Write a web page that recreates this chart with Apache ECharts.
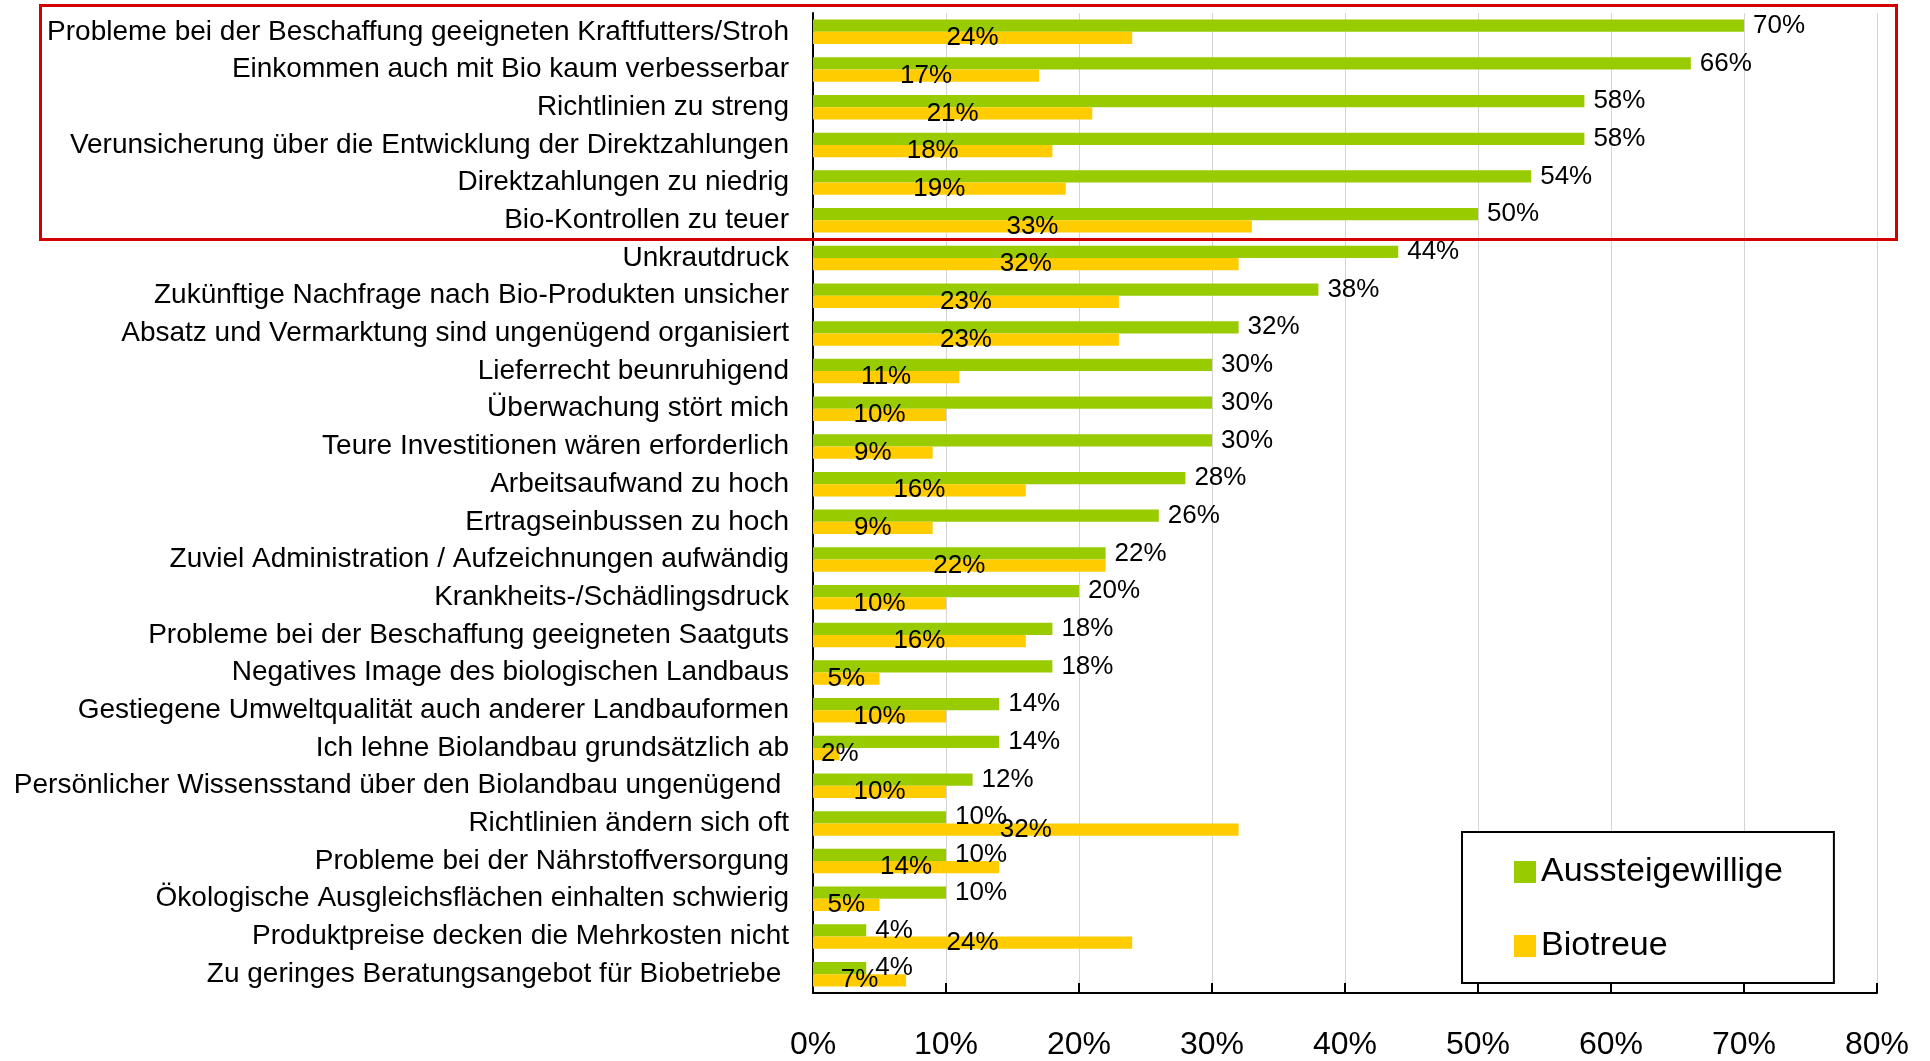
<!DOCTYPE html>
<html>
<head>
<meta charset="utf-8">
<script src="https://cdn.jsdelivr.net/npm/echarts@6/dist/echarts.min.js"></script>
<style>
    html, body {margin: 0; padding: 0; background: #fff;}
    #main {width: 1930px; height: 1061px;}
</style>
</head>
<body>
<div id="main"></div>
<script>
// Kategorien von oben nach unten
var categories = [
    "Probleme bei der Beschaffung geeigneten Kraftfutters/Stroh",
    "Einkommen auch mit Bio kaum verbesserbar",
    "Richtlinien zu streng",
    "Verunsicherung über die Entwicklung der Direktzahlungen",
    "Direktzahlungen zu niedrig",
    "Bio-Kontrollen zu teuer",
    "Unkrautdruck",
    "Zukünftige Nachfrage nach Bio-Produkten unsicher",
    "Absatz und Vermarktung sind ungenügend organisiert",
    "Lieferrecht beunruhigend",
    "Überwachung stört mich",
    "Teure Investitionen wären erforderlich",
    "Arbeitsaufwand zu hoch",
    "Ertragseinbussen zu hoch",
    "Zuviel Administration / Aufzeichnungen aufwändig",
    "Krankheits-/Schädlingsdruck",
    "Probleme bei der Beschaffung geeigneten Saatguts",
    "Negatives Image des biologischen Landbaus",
    "Gestiegene Umweltqualität auch anderer Landbauformen",
    "Ich lehne Biolandbau grundsätzlich ab",
    "Persönlicher Wissensstand über den Biolandbau ungenügend ",
    "Richtlinien ändern sich oft",
    "Probleme bei der Nährstoffversorgung",
    "Ökologische Ausgleichsflächen einhalten schwierig",
    "Produktpreise decken die Mehrkosten nicht",
    "Zu geringes Beratungsangebot für Biobetriebe "
];

var aussteigewillige = [70, 66, 58, 58, 54, 50, 44, 38, 32, 30, 30, 30, 28, 26, 22, 20, 18, 18, 14, 14, 12, 10, 10, 10, 4, 4];
var biotreue = [24, 17, 21, 18, 19, 33, 32, 23, 23, 11, 10, 9, 16, 9, 22, 10, 16, 5, 10, 2, 10, 32, 14, 5, 24, 7];

var tickValues = [0, 10, 20, 30, 40, 50, 60, 70, 80];
var tickLabels = ["0%", "10%", "20%", "30%", "40%", "50%", "60%", "70%", "80%"];

var font = "Liberation Sans";

var myChart = echarts.init(document.getElementById("main"));

// sehr kurze Balken: Beschriftung links im Balken statt mittig
var biotreueData = biotreue.map(function (v) {
    if (v < 4) {
        return {value: v, label: {position: "insideLeft", distance: 8}};
    }
    return v;
});

var option = {
    animation: false,
    backgroundColor: "#fff",
    grid: {left: 813, right: 53, top: 13, bottom: 64, containLabel: false},
    legend: {
        orient: "vertical",
        left: 1462,
        top: 832,
        padding: [23, 51, 20, 52],
        itemGap: 40,
        itemWidth: 22,
        itemHeight: 22,
        icon: "rect",
        backgroundColor: "#fff",
        borderColor: "#000",
        borderWidth: 2,
        borderRadius: 0,
        textStyle: {fontFamily: font, fontSize: 34, lineHeight: 34, color: "#000", padding: [0, 0, 0, 0]},
        data: ["Aussteigewillige", "Biotreue"]
    },
    xAxis: {
        type: "value",
        min: 0,
        max: 80,
        interval: 10,
        axisLine: {show: true, lineStyle: {color: "#000", width: 2}},
        axisTick: {show: true, inside: true, length: 10, lineStyle: {color: "#000", width: 2}},
        splitLine: {show: true, lineStyle: {color: "#d4d4d4", width: 1}},
        axisLabel: {
            margin: 36,
            fontFamily: font,
            fontSize: 32,
            color: "#000",
            formatter: function (val) {
                var i = tickValues.indexOf(val);
                return i >= 0 ? tickLabels[i] : "";
            }
        }
    },
    yAxis: {
        type: "category",
        inverse: true,
        data: categories,
        axisLine: {show: true, lineStyle: {color: "#000", width: 2}},
        axisTick: {show: false},
        axisLabel: {margin: 24, fontFamily: font, fontSize: 28, color: "#000"}
    },
    series: [
        {
            name: "Aussteigewillige",
            type: "bar",
            data: aussteigewillige,
            barGap: "0%",
            barCategoryGap: "35%",
            itemStyle: {color: "#99cc00"},
            label: {
                show: true,
                position: "right",
                distance: 9,
                formatter: "{c}%",
                fontFamily: font,
                fontSize: 26,
                color: "#000"
            }
        },
        {
            name: "Biotreue",
            type: "bar",
            data: biotreueData,
            barGap: "0%",
            barCategoryGap: "35%",
            itemStyle: {color: "#ffcc00"},
            label: {
                show: true,
                position: "inside",
                formatter: "{c}%",
                fontFamily: font,
                fontSize: 26,
                color: "#000"
            }
        }
    ],
    graphic: [
        {
            type: "rect",
            z: 100,
            shape: {x: 40.5, y: 5.5, width: 1856, height: 234},
            style: {fill: "none", stroke: "#d40000", lineWidth: 3}
        }
    ]
};

myChart.setOption(option);
</script>
</body>
</html>
